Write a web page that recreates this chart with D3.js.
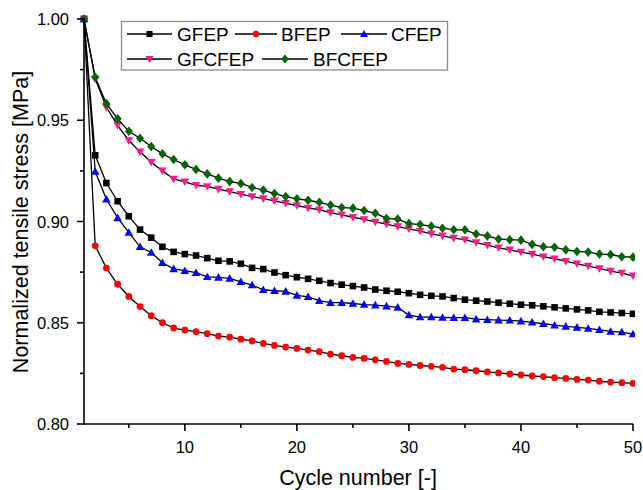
<!DOCTYPE html>
<html>
<head>
<meta charset="utf-8">
<script src="https://cdn.jsdelivr.net/npm/d3@7/dist/d3.min.js"></script>
<style>
  html, body { margin: 0; padding: 0; background: #fff; }
  svg { display: block; font-family: Arial, "Liberation Sans", sans-serif; }
</style>
</head>
<body>
<svg id="chart" width="643" height="490"></svg>
<script>
const cycles = d3.range(1, 51);

const GFEP = [1.000,0.9327,0.919,0.910,0.9026,0.896,0.892,0.8875,0.885,0.8839,
  0.8832,0.8819,0.8806,0.8803,0.8791,0.8771,0.8765,0.8748,0.8735,0.8725,
  0.8717,0.8707,0.8696,0.8688,0.8681,0.8674,0.8664,0.8658,0.8653,0.8646,
  0.8638,0.8633,0.863,0.8622,0.8614,0.8609,0.8605,0.8599,0.8594,0.8589,
  0.8586,0.8581,0.8576,0.8571,0.8566,0.8561,0.8554,0.8551,0.8548,0.8544];

const BFEP = [1.000,0.888,0.877,0.869,0.863,0.858,0.8535,0.850,0.8474,0.8464,
  0.8456,0.8446,0.8434,0.8429,0.8419,0.8410,0.8398,0.8388,0.838,0.8373,
  0.8365,0.8357,0.8345,0.8337,0.8329,0.8324,0.8317,0.8309,0.8299,0.8294,
  0.8289,0.8285,0.828,0.8271,0.8268,0.8263,0.8257,0.8252,0.8247,0.8242,
  0.8237,0.8234,0.8229,0.8225,0.822,0.8217,0.8211,0.8207,0.8204,0.8201];

const CFEP = [1.000,0.9247,0.911,0.9018,0.8946,0.8875,0.8847,0.8796,0.8766,0.8757,
  0.8747,0.8727,0.8724,0.8719,0.8702,0.8686,0.8663,0.8658,0.8655,0.8635,
  0.8628,0.8609,0.8599,0.8599,0.8595,0.859,0.8587,0.8582,0.8576,0.8538,
  0.8528,0.8528,0.8526,0.8525,0.8525,0.8518,0.8515,0.8513,0.8512,0.8508,
  0.8502,0.8495,0.8488,0.8482,0.8477,0.8472,0.8465,0.8457,0.8454,0.8444];

const GFCFEP = [1.000,0.9704,0.9564,0.9475,0.940,0.9344,0.9293,0.925,0.921,0.9196,
  0.9179,0.9173,0.916,0.9148,0.9135,0.9123,0.9113,0.9102,0.909,0.9079,
  0.9067,0.9058,0.9044,0.9033,0.9021,0.901,0.8998,0.8987,0.8975,0.8964,
  0.8952,0.8939,0.8929,0.8918,0.891,0.8896,0.8883,0.887,0.886,0.8849,
  0.8839,0.8826,0.8816,0.8804,0.8791,0.878,0.8768,0.8755,0.8745,0.8732];

const BFCFEP = [1.000,0.9712,0.9582,0.9507,0.9446,0.9411,0.937,0.9334,0.9306,0.928,
  0.9257,0.9235,0.9214,0.9197,0.9188,0.9168,0.9155,0.9138,0.9123,0.9112,
  0.9105,0.9095,0.9081,0.9069,0.9066,0.9054,0.9041,0.9015,0.9012,0.899,
  0.8985,0.8977,0.8967,0.8959,0.8959,0.8938,0.8929,0.8913,0.891,0.8908,
  0.8887,0.8875,0.8873,0.886,0.8852,0.8849,0.8839,0.8837,0.8826,0.8824];

const seriesNames = ["GFEP", "BFEP", "CFEP", "GFCFEP", "BFCFEP"];
const seriesValues = [GFEP, BFEP, CFEP, GFCFEP, BFCFEP];
const seriesColors = ["#000000", "#ff0000", "#0000ff", "#ff1a8c", "#006400"];
const seriesSymbols = ["square", "circle", "triangle", "triangleDown", "diamond"];

const xMajorTicks = [10, 20, 30, 40, 50];
const xMinorTicks = [5, 15, 25, 35, 45];
const yMajorTicks = [0.80, 0.85, 0.90, 0.95, 1.00];
const yMinorTicks = [0.825, 0.875, 0.925, 0.975];

const xTitle = "Cycle number [-]";
const yTitle = "Normalized tensile stress [MPa]";

const svg = d3.select("#chart");
const x = d3.scaleLinear().domain([1, 50]).range([84, 633]);
const y = d3.scaleLinear().domain([0.80, 1.00]).range([424, 19]);

const symbolPath = {
  square: s => `M${-s/2},${-s/2}h${s}v${s}h${-s}Z`,
  circle: s => d3.symbol(d3.symbolCircle, Math.PI * (s/2) * (s/2))(),
  triangle: s => `M0,${-s*0.55}L${s*0.55},${s*0.42}L${-s*0.55},${s*0.42}Z`,
  triangleDown: s => `M0,${s*0.55}L${s*0.55},${-s*0.42}L${-s*0.55},${-s*0.42}Z`,
  diamond: s => `M0,${-s*0.6}L${s*0.5},0L0,${s*0.6}L${-s*0.5},0Z`
};
const symbolSize = { square: 6.6, circle: 6.8, triangle: 7.8, triangleDown: 7.8, diamond: 8 };

svg.append("defs").append("clipPath").attr("id", "plotclip")
  .append("rect").attr("x", 0).attr("y", 0).attr("width", 635).attr("height", 490);

const plot = svg.append("g").attr("clip-path", "url(#plotclip)");
const line = d3.line().x((d, i) => x(cycles[i])).y(d => y(d));

seriesValues.forEach((vals, si) => {
  const g = plot.append("g");
  g.append("path").datum(vals).attr("d", line)
    .attr("fill", "none").attr("stroke", "#000").attr("stroke-width", 1.3);
  const sym = seriesSymbols[si];
  g.selectAll("path.m").data(vals).enter().append("path").attr("class", "m")
    .attr("transform", (d, i) => `translate(${x(cycles[i])},${y(d)})`)
    .attr("d", symbolPath[sym](symbolSize[sym]))
    .attr("fill", seriesColors[si]);
});

// Axes
const axisG = svg.append("g").attr("stroke", "#000").attr("stroke-width", 1.6);
axisG.append("line").attr("x1", x(1)).attr("x2", x(1)).attr("y1", y(1.0) - 0.8).attr("y2", y(0.80) + 0.8);
axisG.append("line").attr("x1", x(1) - 0.8).attr("x2", x(50)).attr("y1", y(0.80)).attr("y2", y(0.80));

yMajorTicks.forEach(v => axisG.append("line").attr("x1", x(1) - 7).attr("x2", x(1)).attr("y1", y(v)).attr("y2", y(v)));
yMinorTicks.forEach(v => axisG.append("line").attr("x1", x(1) - 4).attr("x2", x(1)).attr("y1", y(v)).attr("y2", y(v)));
xMajorTicks.forEach(v => axisG.append("line").attr("x1", x(v)).attr("x2", x(v)).attr("y1", y(0.80)).attr("y2", y(0.80) + 7));
xMinorTicks.forEach(v => axisG.append("line").attr("x1", x(v)).attr("x2", x(v)).attr("y1", y(0.80)).attr("y2", y(0.80) + 4));

svg.selectAll("text.yt").data(yMajorTicks).enter().append("text")
  .attr("x", x(1) - 15).attr("y", d => y(d) + 6)
  .attr("text-anchor", "end").attr("font-size", 16.5).attr("fill", "#000")
  .text(d => d.toFixed(2));

svg.selectAll("text.xt").data(xMajorTicks).enter().append("text")
  .attr("x", d => x(d)).attr("y", 453)
  .attr("text-anchor", "middle").attr("font-size", 16.5).attr("fill", "#000")
  .text(d => d);

svg.append("text").attr("x", 358).attr("y", 485).attr("text-anchor", "middle")
  .attr("font-size", 21.5).attr("fill", "#000").text(xTitle);

svg.append("text").attr("transform", "translate(28,222) rotate(-90)")
  .attr("text-anchor", "middle").attr("font-size", 21.5).attr("fill", "#000").text(yTitle);

// Legend
const leg = svg.append("g");
leg.append("rect").attr("x", 121.5).attr("y", 21.5).attr("width", 326).attr("height", 48.5)
  .attr("fill", "#fff").attr("stroke", "#8c8c8c").attr("stroke-width", 1.3);
const legendPos = [
  { x1: 127, x2: 172, tx: 177, cy: 34 },
  { x1: 235, x2: 277, tx: 281, cy: 34 },
  { x1: 341, x2: 387, tx: 391, cy: 34 },
  { x1: 127, x2: 172, tx: 177, cy: 59 },
  { x1: 262, x2: 308, tx: 313, cy: 59 }
];
seriesNames.forEach((name, i) => {
  const p = legendPos[i];
  leg.append("line").attr("x1", p.x1).attr("x2", p.x2).attr("y1", p.cy).attr("y2", p.cy)
    .attr("stroke", "#000").attr("stroke-width", 1.6);
  const sym = seriesSymbols[i];
  leg.append("path").attr("transform", `translate(${(p.x1 + p.x2) / 2},${p.cy})`)
    .attr("d", symbolPath[sym](symbolSize[sym] - 0.5)).attr("fill", seriesColors[i]);
  leg.append("text").attr("x", p.tx).attr("y", p.cy + 7).attr("font-size", 19)
    .attr("fill", "#000").text(name);
});
</script>
</body>
</html>
